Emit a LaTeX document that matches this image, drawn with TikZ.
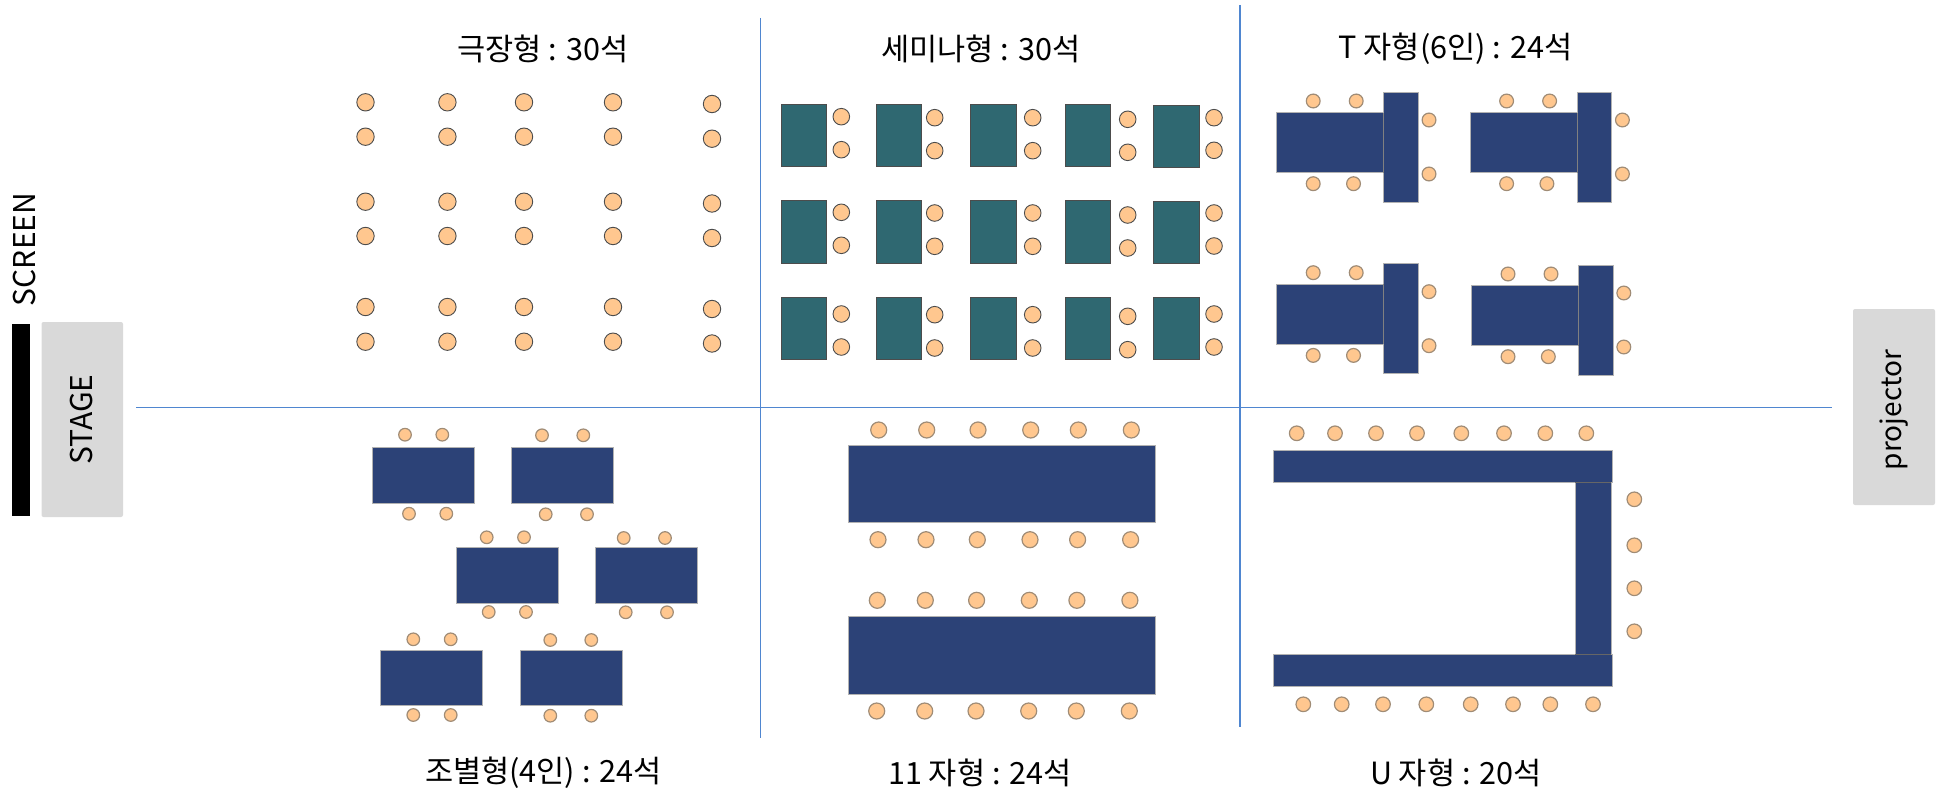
\documentclass[tikz,border=0pt]{standalone}
\usepackage{fontspec}
\setmainfont{Noto Sans CJK KR}
\definecolor{linkblue}{HTML}{4F86D0}
\definecolor{tablenavy}{HTML}{2C4277}
\definecolor{tableteal}{HTML}{2F6871}
\definecolor{seatfill}{HTML}{FFC78F}
\definecolor{seatedge}{HTML}{A08C76}
\definecolor{stagegray}{HTML}{D9D9D9}
\usetikzlibrary{positioning}
\tikzset{
	seat/.style={fill=seatfill, draw=seatedge, line width=0.6pt},
	darkseat/.style={fill=seatfill, draw=black!70, line width=0.45pt},
	navytable/.style={fill=tablenavy, draw=black!30, line width=0.3pt},
	tealtable/.style={fill=tableteal, draw=black!70, line width=0.4pt},
	divider/.style={linkblue, line width=0.9pt},
	caption/.style={font=\fontsize{15.3}{18}\selectfont},
	sidelabel/.style={font=\fontsize{15}{18}\selectfont, rotate=90}
}
\begin{document}
\begin{tikzpicture}[x=0.5pt,y=-0.5pt]
	\useasboundingbox (0,0) rectangle (1947,791);
	\draw[divider] (760.5,18) -- (760.5,738);
	\draw[divider] (1240,5) -- (1240,727);
	\draw[divider] (136,407.5) -- (1832,407.5);
	\fill[black] (12,324) rectangle (30,515.5);
	\fill[stagegray, rounded corners=1pt] (41.5,322) rectangle (123,517);
	\fill[stagegray, rounded corners=1pt] (1853,309) rectangle (1935,505);
	\node[sidelabel] (screenlabel) at (25,249.5) {SCREEN};
	\node[sidelabel] (stagelabel) at (82,419.5) {STAGE};
	\node[sidelabel, font=\fontsize{14}{17}\selectfont] (projectorlabel) at (1894,410) {projector};
	\node[caption] (theatertitle) at (543,49) {극장형 : 30석};
	\node[caption] (seminartitle) at (981,49) {세미나형 : 30석};
	\node[caption] (ttitle) at (1455.5,49) {T 자형(6인) : 24석};
	\node[caption] (grouptitle) at (543.5,773) {조별형(4인) : 24석};
	\node[caption] (elevtitle) at (980,773) {11 자형 : 24석};
	\node[caption] (utitle) at (1456,773) {U 자형 : 20석};
	\foreach \sx in {365.5,447.4,524,613}
		\foreach \sy in {102.3,136.7,201.7,236,307,341.7}
			\draw[darkseat] (\sx,\sy) circle (8.7);
	\foreach \sy in {104,138.7,203.5,238,309,343.5}
		\draw[darkseat] (712,\sy) circle (8.7);
	\foreach \tx/\sx/\ya/\yb/\yc/\yd/\ye/\yf/\tb in {
		781/841.3/116.7/149.7/212.3/245.3/314/347/0,
		876/934.7/117.7/150.7/213/246.3/314.7/348/0,
		970.7/1032.7/117.7/150.7/213/246.3/314.7/348/0,
		1065.3/1127.7/119.3/152.3/215/248/316.3/349.7/0,
		1153.5/1214/117.7/150.3/213/246/314/347/1} {
		\fill[tealtable] (\tx,104+\tb) rectangle (\tx+45.5,166.7+\tb);
		\fill[tealtable] (\tx,200.7+0.4*\tb) rectangle (\tx+45.5,263.3+0.4*\tb);
		\fill[tealtable] (\tx,297) rectangle (\tx+45.5,359.7);
		\foreach \sy in {\ya,\yb,\yc,\yd,\ye,\yf}
			\draw[darkseat] (\sx,\sy) circle (8.3);
	}
	\foreach \gx/\gy in {0/0,193.4/0,0/171.7,194.8/173} {
		\begin{scope}[shift={(\gx,\gy)}]
			\fill[navytable] (1276.6,112.7) rectangle (1383.6,172.7);
			\fill[navytable] (1383.6,92) rectangle (1418,202);
			\draw[black!50, line width=0.3pt] (1383.6,112.7) -- (1383.6,172.7);
			\draw[seat] (1313.2,101) circle (6.9);
			\draw[seat] (1356.2,101) circle (6.9);
			\draw[seat] (1313.2,183.7) circle (6.9);
			\draw[seat] (1353.5,183.7) circle (6.9);
			\draw[seat] (1429,120) circle (6.9);
			\draw[seat] (1429,174) circle (6.9);
		\end{scope}
	}
	\foreach \tx/\ty/\ta/\tb/\ua/\ub/\ya/\yb in {
		372.3/447.7/405/442.3/409/446.3/434.7/513.7,
		511.7/447.7/542/583.3/545.7/587/435.3/514.3,
		456.3/547.7/486.7/524/488.7/526/537.3/612,
		595.5/547.7/623.7/665/625.7/667/538/612.3,
		380.3/650/413.3/450.7/413.3/450.7/639.3/715,
		520/650/550.3/591.3/550.3/591.3/640/715.7} {
		\fill[navytable] (\tx,\ty) rectangle (\tx+102,\ty+55.7);
		\draw[seat] (\ta,\ya) circle (6.3);
		\draw[seat] (\tb,\ya) circle (6.3);
		\draw[seat] (\ua,\yb) circle (6.3);
		\draw[seat] (\ub,\yb) circle (6.3);
	}
	\fill[navytable] (848.3,445.3) rectangle (1155.6,522.7);
	\fill[navytable] (848.3,616.7) rectangle (1155.6,694.3);
	\foreach \sy/\dx in {430/0,539.7/-0.7,600.3/-1.4,711/-2} {
		\foreach \sx in {878.7,926.7,978,1030.7,1078.3,1131.3}
			\draw[seat] (\sx+\dx,\sy) circle (8);
	}
	\fill[navytable] (1575.3,482.7) rectangle (1611.3,654);
	\fill[navytable] (1273,450.3) rectangle (1612,482.7);
	\fill[navytable] (1273,654) rectangle (1612,686.7);
	\draw[black!60, line width=0.3pt] (1575.3,482.7) -- (1611.3,482.7);
	\draw[black!60, line width=0.3pt] (1575.3,654) -- (1611.3,654);
	\foreach \sx in {1296.7,1335,1376,1417,1461.3,1504,1545.3,1586.3}
		\draw[seat] (\sx,433.3) circle (7.3);
	\foreach \sx in {1303.3,1341.7,1383,1426.3,1470.7,1513,1550.3,1593}
		\draw[seat] (\sx,704.3) circle (7.3);
	\foreach \sy in {499.3,545.3,588.3,631.3}
		\draw[seat] (1634.3,\sy) circle (7.3);
\end{tikzpicture}
\end{document}
